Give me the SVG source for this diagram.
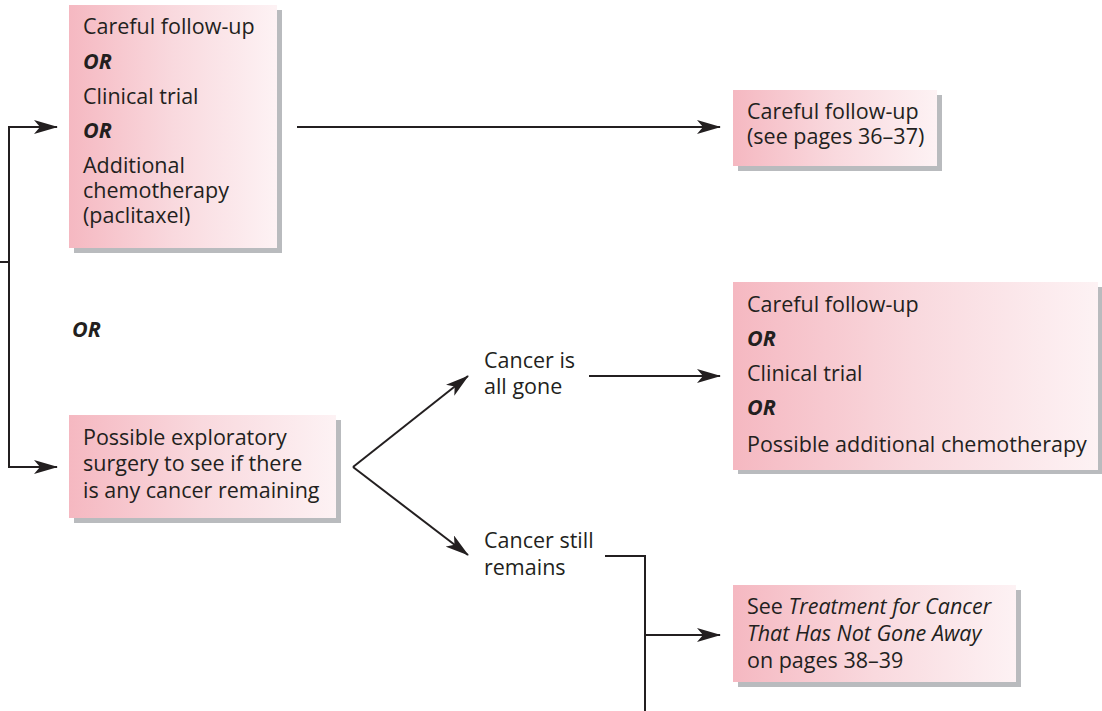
<svg xmlns="http://www.w3.org/2000/svg" width="1102" height="711" viewBox="0 0 1102 711">
<defs>
<linearGradient id="pink" x1="0" y1="0" x2="1" y2="0">
<stop offset="0" stop-color="#f5b8c1"/>
<stop offset="0.5" stop-color="#f9d9de"/>
<stop offset="1" stop-color="#fdf2f4"/>
</linearGradient>
<marker id="arr" viewBox="0 0 24 14" refX="23" refY="7" markerWidth="24" markerHeight="14" markerUnits="userSpaceOnUse" orient="auto">
<path d="M0,0 L24,7 L0,14 L6,7 z" fill="#231f20"/>
</marker>
<style>
.box{fill:url(#pink)}
.sh{fill:#b9bbbe}
.t{font-family:"Open Sans","Noto Sans",sans-serif;font-size:21.5px;fill:#231f20}
.or{font-weight:bold;font-style:italic}
.it{font-style:italic}
.ln{fill:none;stroke:#231f20;stroke-width:2}
</style>
</defs>
<g id="connectors">
<polyline class="ln" points="0,262 9,262"/>
<polyline class="ln" points="57,127 9,127 9,467 57,467" marker-end="url(#arr)"/>
<path class="ln" d="M9,127 L57,127" marker-end="url(#arr)"/>
<path class="ln" d="M297,127 L720,127" marker-end="url(#arr)"/>
<path class="ln" d="M353,467 L468,376" marker-end="url(#arr)"/>
<path class="ln" d="M353,467 L468,555" marker-end="url(#arr)"/>
<path class="ln" d="M589,376 L720,376" marker-end="url(#arr)"/>
<polyline class="ln" points="605,556 645,556 645,711"/>
<path class="ln" d="M645,635 L720,635" marker-end="url(#arr)"/>
</g>
<g id="node-options1">
<rect class="sh" x="74" y="10" width="208" height="243"/>
<rect class="box" x="69" y="5" width="208" height="243"/>
<text class="t" x="83" y="34">Careful follow-up</text>
<text class="t or" x="83" y="69">OR</text>
<text class="t" x="83" y="104">Clinical trial</text>
<text class="t or" x="83" y="138">OR</text>
<text class="t" x="83" y="173">Additional</text>
<text class="t" x="83" y="198">chemotherapy</text>
<text class="t" x="83" y="223">(paclitaxel)</text>
</g>
<g id="node-followup">
<rect class="sh" x="738" y="95" width="204" height="76"/>
<rect class="box" x="733" y="90" width="204" height="76"/>
<text class="t" x="747" y="119">Careful follow-up</text>
<text class="t" x="747" y="144">(see pages 36–37)</text>
</g>
<g id="label-or">
<text class="t or" x="72" y="337">OR</text>
</g>
<g id="node-surgery">
<rect class="sh" x="74" y="420" width="267" height="103"/>
<rect class="box" x="69" y="415" width="267" height="103"/>
<text class="t" x="83" y="445">Possible exploratory</text>
<text class="t" x="83" y="471">surgery to see if there</text>
<text class="t" x="83" y="498">is any cancer remaining</text>
</g>
<g id="label-gone">
<text class="t" x="484" y="368">Cancer is</text>
<text class="t" x="484" y="394">all gone</text>
</g>
<g id="label-remains">
<text class="t" x="484" y="548">Cancer still</text>
<text class="t" x="484" y="575">remains</text>
</g>
<g id="node-options2">
<rect class="sh" x="738" y="287" width="364" height="187"/>
<rect class="box" x="733" y="282" width="365" height="188"/>
<text class="t" x="747" y="312">Careful follow-up</text>
<text class="t or" x="747" y="346">OR</text>
<text class="t" x="747" y="381">Clinical trial</text>
<text class="t or" x="747" y="415">OR</text>
<text class="t" x="747" y="452">Possible additional chemotherapy</text>
</g>
<g id="node-treatment">
<rect class="sh" x="738" y="590" width="283" height="97"/>
<rect class="box" x="733" y="585" width="283" height="97"/>
<text class="t" x="747" y="614">See <tspan class="it">Treatment for Cancer</tspan></text>
<text class="t it" x="747" y="641">That Has Not Gone Away</text>
<text class="t" x="747" y="668">on pages 38–39</text>
</g>
</svg>
